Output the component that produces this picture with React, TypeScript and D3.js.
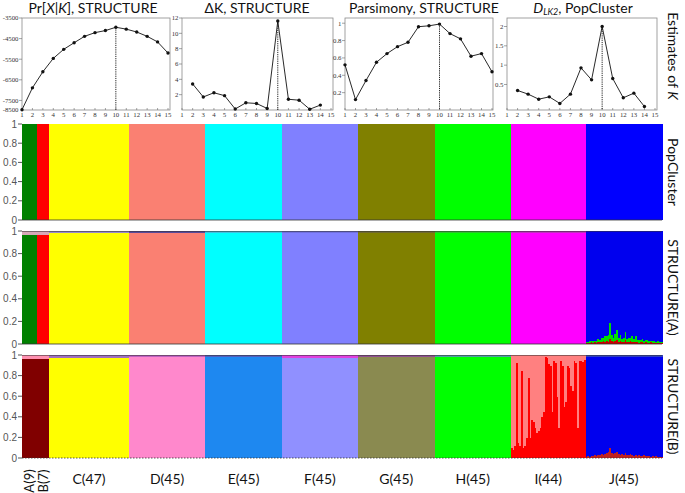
import React from "react";
import * as d3 from "d3";

// ---------- Top line plots (estimates of K) ----------
const kAll = [1, 2, 3, 4, 5, 6, 7, 8, 9, 10, 11, 12, 13, 14, 15];
const prXK = [-7950, -6890, -6110, -5460, -5020, -4700, -4390, -4210, -4110, -3950, -4040, -4180, -4390, -4660, -5200];
const kDelta = [2, 3, 4, 5, 6, 7, 8, 9, 10, 11, 12, 13, 14];
const deltaK = [3.4, 1.7, 2.25, 1.87, 0.13, 0.94, 0.85, 0.2, 11.6, 1.4, 1.28, 0.1, 0.64];
const parsimony = [0.52, 0.12, 0.34, 0.55, 0.65, 0.73, 0.78, 0.96, 0.97, 0.99, 0.88, 0.82, 0.62, 0.65, 0.44];
const kDlk = [2, 3, 4, 5, 6, 7, 8, 9, 10, 11, 12, 13, 14];
const dlk2 = [0.345, 0.25, 0.12, 0.18, 0.01, 0.25, 0.93, 0.62, 2.0, 0.655, 0.155, 0.276, -0.07];

const prTicks = [-3500, -4500, -5500, -6500, -7500];
const deltaTicks = [2, 4, 6, 8, 10, 12];
const parsTicks = [0.2, 0.4, 0.6, 0.8, 1];
const dlkTicks = [0.5, 1, 1.5, 2];
const bestK = 10;

// ---------- Admixture bar panels ----------
const groupLabels = ["A(9)", "B(7)", "C(47)", "D(45)", "E(45)", "F(45)", "G(45)", "H(45)", "I(44)", "J(45)"];
const groupSizes = [9, 7, 47, 45, 45, 45, 45, 45, 44, 45];
const panelNames = ["PopCluster", "STRUCTURE(A)", "STRUCTURE(B)"];
const colorsPop = ["#008000", "#ff0000", "#ffff00", "#fa8072", "#00ffff", "#8080ff", "#808000", "#00ff00", "#ff00ff", "#0000ff"];
const colorsA = ["#008000", "#ff0000", "#ffff00", "#fa8072", "#00ffff", "#8080ff", "#808000", "#00ff00", "#ff00ff", "#0000ee"];
const topFracA = [0.03, 0.03, 0.015, 0.01, 0.01, 0.01, 0.01, 0.01, 0.01, 0.0];
const topColorA = ["#d8a8b8", "#d8a8b8", "#9a8ad0", "#5a4a9a", "#40c0e0", "#7070e0", "#706a30", "#30c030", "#c030c0", "#0000ee"];
const colorsB = ["#800000", "#800000", "#ffff00", "#ff88cc", "#1e88f0", "#9090ff", "#8a8a50", "#00ff00", "#ff8080", "#0000ee"];
const topFracB = [0.035, 0.035, 0.025, 0.02, 0.015, 0.025, 0.02, 0.015, 0.0, 0.015];
const topColorB = ["#ff90b0", "#ff90b0", "#a070c0", "#c060c0", "#5060c0", "#e040e0", "#905090", "#50a0a0", "#ff8080", "#3040c0"];
const jGreenA = [0.01, 0.01, 0.02, 0.01, 0.02, 0.01, 0.02, 0.03, 0.02, 0.04, 0.03, 0.05, 0.04, 0.06, 0.14, 0.05, 0.04, 0.06, 0.09, 0.04, 0.05, 0.03, 0.04, 0.07, 0.03, 0.04, 0.03, 0.05, 0.03, 0.05, 0.02, 0.03, 0.02, 0.03, 0.02, 0.02, 0.03, 0.02, 0.01, 0.02, 0.02, 0.01, 0.02, 0.01, 0.01];
const jRedA = [0.01, 0.01, 0.01, 0.02, 0.01, 0.02, 0.01, 0.02, 0.02, 0.02, 0.03, 0.02, 0.03, 0.02, 0.05, 0.03, 0.02, 0.03, 0.04, 0.02, 0.03, 0.02, 0.02, 0.04, 0.02, 0.02, 0.03, 0.02, 0.02, 0.02, 0.02, 0.01, 0.02, 0.02, 0.01, 0.02, 0.01, 0.01, 0.02, 0.01, 0.01, 0.01, 0.01, 0.01, 0.01];
const jRedB = [0.01, 0.02, 0.01, 0.02, 0.02, 0.03, 0.02, 0.03, 0.03, 0.04, 0.03, 0.04, 0.05, 0.06, 0.1, 0.05, 0.04, 0.05, 0.06, 0.04, 0.03, 0.04, 0.03, 0.05, 0.03, 0.03, 0.04, 0.03, 0.02, 0.03, 0.02, 0.03, 0.02, 0.02, 0.03, 0.02, 0.02, 0.02, 0.01, 0.02, 0.01, 0.02, 0.01, 0.01, 0.01];
const iRedB = [0.1, 0.08, 0.12, 0.93, 0.15, 0.12, 0.85, 0.1, 0.12, 0.2, 0.78, 0.2, 0.37, 0.35, 0.3, 0.25, 0.27, 0.3, 0.4, 0.45, 0.98, 0.97, 0.92, 0.9, 0.45, 0.95, 0.93, 0.6, 0.3, 0.95, 0.9, 0.5, 0.55, 0.9, 0.88, 0.7, 0.65, 0.95, 0.93, 0.3, 0.95, 0.95, 0.94, 0.96];

type Seg = { color: string; v: number };

function buildPanel(p: number): Seg[][] {
  const out: Seg[][] = [];
  groupSizes.forEach((n, g) => {
    for (let i = 0; i < n; i++) {
      if (p === 0) {
        out.push([{ color: colorsPop[g], v: 1 }]);
      } else if (p === 1) {
        const top = topFracA[g];
        if (g === 9) {
          const r = jRedA[i], gr = jGreenA[i];
          out.push([
            { color: "#cc0000", v: r },
            { color: "#00dd00", v: gr },
            { color: colorsA[g], v: 1 - r - gr },
          ]);
        } else {
          out.push([
            { color: colorsA[g], v: 1 - top },
            { color: topColorA[g], v: top },
          ]);
        }
      } else {
        const top = topFracB[g];
        if (g === 8) {
          const r = iRedB[i];
          out.push([
            { color: "#ff0000", v: r },
            { color: colorsB[g], v: 1 - r },
          ]);
        } else if (g === 9) {
          const r = jRedB[i];
          out.push([
            { color: "#c02020", v: r },
            { color: colorsB[g], v: 1 - r - top },
            { color: topColorB[g], v: top },
          ]);
        } else {
          out.push([
            { color: colorsB[g], v: 1 - top },
            { color: topColorB[g], v: top },
          ]);
        }
      }
    }
  });
  return out;
}

const serif = "'Liberation Serif', 'DejaVu Serif', serif";
const sans = "Lato, 'Liberation Sans', sans-serif";

function LinePlot(props: {
  xs: number[]; ys: number[]; x0: number; x1: number; boxR: number; top: number; bottom: number;
  domain: [number, number]; ticks: number[]; fmt: (v: number) => string; extraLabel?: string;
}) {
  const { xs, ys, x0, x1, boxR, top, bottom, domain, ticks, fmt, extraLabel } = props;
  const x = d3.scaleLinear().domain([1, 15]).range([x0, x1]);
  const y = d3.scaleLinear().domain(domain).range([bottom, top]);
  const pts = xs.map((k, i) => [x(k), y(ys[i])] as [number, number]);
  const line = d3.line()(pts) || "";
  const bi = xs.indexOf(bestK);
  return (
    <g>
      <rect x={x0} y={top} width={boxR - x0} height={bottom - top} fill="none" stroke="#8a8a8a" strokeWidth={0.8} />
      {ticks.map((t) => (
        <g key={t}>
          <line x1={x0 - 3} x2={x0} y1={y(t)} y2={y(t)} stroke="#666" strokeWidth={0.6} />
          <text x={x0 - 3.5} y={y(t) + 2.3} fontSize={6.8} fontFamily={serif} textAnchor="end" fill="#333">{fmt(t)}</text>
        </g>
      ))}
      {extraLabel && (
        <text x={x0 - 3.5} y={y(domain[0]) + 2.3} fontSize={6.8} fontFamily={serif} textAnchor="end" fill="#333">{extraLabel}</text>
      )}
      {kAll.map((k) => (
        <g key={k}>
          <line x1={x(k)} x2={x(k)} y1={bottom} y2={bottom - 2} stroke="#666" strokeWidth={0.6} />
          <text x={x(k)} y={bottom + 7} fontSize={6.8} fontFamily={serif} textAnchor="middle" fill="#333">{k}</text>
        </g>
      ))}
      {bi >= 0 && (
        <line x1={x(bestK)} x2={x(bestK)} y1={y(ys[bi])} y2={bottom} stroke="#222" strokeWidth={1} strokeDasharray="1.2,1" />
      )}
      <path d={line} fill="none" stroke="#111" strokeWidth={0.9} />
      {pts.map((p, i) => (
        <circle key={i} cx={p[0]} cy={p[1]} r={1.7} fill="#111" />
      ))}
    </g>
  );
}

export default function App() {
  const W = 685, H = 493;
  const px0 = 22, px1 = 662;
  const total = d3.sum(groupSizes);
  const xs = d3.scaleLinear().domain([0, total]).range([px0, px1]);
  const panelY: [number, number][] = [[124, 220], [231, 344], [355, 458]];
  const starts = groupSizes.map((_, g) => d3.sum(groupSizes.slice(0, g)));
  const plotTop = 18, plotBottom = 110;

  return (
    <svg width={W} height={H} style={{ position: "absolute", left: 0, top: 0, background: "#fff" }}>
      <rect x={0} y={0} width={W} height={H} fill="#fff" />
      {/* Top plots */}
      <LinePlot xs={kAll} ys={prXK} x0={22} x1={168} boxR={170} top={plotTop} bottom={plotBottom}
        domain={[-7964, -3500]} ticks={prTicks} fmt={(v) => String(v)} extraLabel="-8500" />
      <LinePlot xs={kDelta} ys={deltaK} x0={182} x1={331} boxR={333} top={plotTop} bottom={plotBottom}
        domain={[0, 12]} ticks={deltaTicks} fmt={(v) => String(v)} />
      <LinePlot xs={kAll} ys={parsimony} x0={345} x1={492} boxR={493} top={plotTop} bottom={plotBottom}
        domain={[0, 1.06]} ticks={parsTicks} fmt={(v) => String(v)} />
      <LinePlot xs={kDlk} ys={dlk2} x0={507} x1={655} boxR={657} top={plotTop} bottom={plotBottom}
        domain={[-0.16, 2.22]} ticks={dlkTicks} fmt={(v) => String(v)} />

      {/* Titles */}
      <text x={93} y={13} fontSize={14} fontFamily={sans} textAnchor="middle" fill="#111">
        <tspan>Pr[</tspan><tspan fontStyle="italic">X</tspan><tspan>|</tspan><tspan fontStyle="italic">K</tspan><tspan>], STRUCTURE</tspan>
      </text>
      <text x={257} y={13} fontSize={14} fontFamily={sans} textAnchor="middle" fill="#111">ΔK, STRUCTURE</text>
      <text x={424} y={13} fontSize={14} fontFamily={sans} textAnchor="middle" fill="#111">Parsimony, STRUCTURE</text>
      <text x={583} y={13} fontSize={14} fontFamily={sans} textAnchor="middle" fill="#111">
        <tspan fontStyle="italic">D</tspan><tspan fontStyle="italic" fontSize={9} dy={2}>LK2</tspan><tspan dy={-2}>, PopCluster</tspan>
      </text>
      <text transform="translate(668,56) rotate(90)" fontSize={14} fontFamily={sans} textAnchor="middle" fill="#111">
        <tspan>Estimates of </tspan><tspan fontStyle="italic">K</tspan>
      </text>

      {/* Bar panels */}
      {panelNames.map((name, p) => {
        const [yt, yb] = panelY[p];
        const y = d3.scaleLinear().domain([0, 1]).range([yb, yt]);
        const inds = buildPanel(p);
        return (
          <g key={name}>
            <g shapeRendering="crispEdges">
              {inds.map((segs, i) => {
                let acc = 0;
                const x0 = xs(i), x1 = xs(i + 1);
                return segs.map((s, j) => {
                  const y0 = acc;
                  acc += s.v;
                  if (s.v <= 0) return null;
                  return (
                    <rect key={i + "-" + j} x={x0} width={x1 - x0 + 0.6} y={y(acc)} height={y(y0) - y(acc) + 0.4} fill={s.color} />
                  );
                });
              })}
            </g>
            {p > 0 && <line x1={px0} x2={px1} y1={yt + 0.5} y2={yt + 0.5} stroke="#333" strokeOpacity={0.55} strokeWidth={1} />}
            <line x1={px0} x2={px1} y1={yb} y2={yb} stroke="#333" strokeWidth={1} strokeDasharray={p === 2 ? "1.5,1.5" : undefined} strokeOpacity={0.8} />
            {[0, 0.2, 0.4, 0.6, 0.8, 1].map((t) => (
              <g key={t}>
                <line x1={px0 - 4} x2={px0} y1={y(t)} y2={y(t)} stroke="#555" strokeWidth={1} />
                <text x={px0 - 5} y={y(t) + 3.5} fontSize={10} fontFamily="'Liberation Sans', Arial, sans-serif" textAnchor="end" fill="#555">{String(t)}</text>
              </g>
            ))}
            <text transform={`translate(668,${(yt + yb) / 2}) rotate(90)`} fontSize={14} fontFamily={sans} textAnchor="middle" fill="#111">{name}</text>
          </g>
        );
      })}

      {/* Group labels */}
      {groupLabels.map((lab, g) => {
        const cx = xs(starts[g] + groupSizes[g] / 2);
        if (groupSizes[g] < 10) {
          return (
            <text key={lab} transform={`translate(${cx + 4.5},481) rotate(-90)`} fontSize={13} fontFamily={sans} textAnchor="middle" fill="#111">{lab}</text>
          );
        }
        return (
          <text key={lab} x={cx} y={484} fontSize={14} fontFamily={sans} textAnchor="middle" fill="#111">{lab}</text>
        );
      })}
    </svg>
  );
}
